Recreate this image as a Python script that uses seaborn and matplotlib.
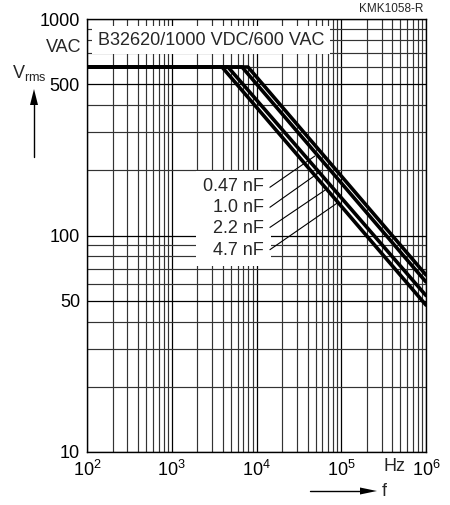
import pandas as pd
import seaborn as sns
import matplotlib.pyplot as plt
from matplotlib.ticker import FixedLocator, LogLocator, NullFormatter
import matplotlib.transforms as mtransforms

# curve data: flat part at 600 VAC, then roll-off
caps = ['0.47 nF', '1.0 nF', '2.2 nF', '4.7 nF']
freq_047 = [100, 7940, 1e6]
freq_10 = [100, 6750, 1e6]
freq_22 = [100, 4610, 1e6]
freq_47 = [100, 3920, 1e6]
volt_047 = [600, 600, 65.7]
volt_10 = [600, 600, 61.0]
volt_22 = [600, 600, 52.8]
volt_47 = [600, 600, 47.7]

y_labels = [10, 50, 100, 500, 1000]

# leader line ends (label side / curve side)
lead_start = [(14400, 167), (14400, 135), (14400, 109), (14400, 86)]
lead_end = [(49000, 233), (53200, 194), (64300, 162), (89100, 141)]

df = pd.concat([
    pd.DataFrame({'f': freq_047, 'V': volt_047, 'C': caps[0]}),
    pd.DataFrame({'f': freq_10, 'V': volt_10, 'C': caps[1]}),
    pd.DataFrame({'f': freq_22, 'V': volt_22, 'C': caps[2]}),
    pd.DataFrame({'f': freq_47, 'V': volt_47, 'C': caps[3]}),
])

sns.set_style('white')
plt.rcParams['font.family'] = ['Liberation Sans', 'DejaVu Sans']
plt.rcParams['mathtext.fontset'] = 'custom'
plt.rcParams['mathtext.rm'] = 'Liberation Sans'
plt.rcParams['mathtext.it'] = 'Liberation Sans:italic'
fs = 13

fig = plt.figure(figsize=(4.5, 5.05), dpi=100)
ax = fig.add_axes([87 / 450, 53 / 505, 339 / 450, 433 / 505])

sns.lineplot(data=df, x='f', y='V', hue='C', palette={c: 'black' for c in caps},
             linewidth=2.6, legend=False, ax=ax, zorder=4)

ax.set_xscale('log')
ax.set_yscale('log')
ax.set_xlim(100, 1e6)
ax.set_ylim(10, 1000)

ax.yaxis.set_major_locator(FixedLocator(y_labels))
ax.yaxis.set_major_formatter(plt.FuncFormatter(lambda v, p: '%d' % v))
ax.yaxis.set_minor_locator(LogLocator(base=10, subs=range(2, 10)))
ax.yaxis.set_minor_formatter(NullFormatter())
ax.xaxis.set_major_locator(LogLocator(base=10))
ax.xaxis.set_minor_locator(LogLocator(base=10, subs=range(2, 10)))
ax.xaxis.set_minor_formatter(NullFormatter())

ax.grid(which='major', color='black', linewidth=0.9, zorder=1)
ax.grid(which='minor', color='#333333', linewidth=0.85, zorder=1)
ax.set_axisbelow(True)
ax.tick_params(which='both', length=0, labelsize=fs, colors='black')
ax.tick_params(axis='y', pad=5)
ax.tick_params(axis='x', pad=6)
for lbl in ax.get_yticklabels():
    lbl.set_verticalalignment('center_baseline')
for s in ax.spines.values():
    s.set_color('black')
    s.set_linewidth(1.0)
ax.set_xlabel('')
ax.set_ylabel('')

# title box inside the plot
ax.text(0.032, 0.951, 'B32620/1000 VDC/600 VAC', transform=ax.transAxes, fontsize=fs,
        ha='left', va='center', zorder=5,
        bbox=dict(boxstyle='square,pad=0.3', fc='white', ec='none'))

# capacitance labels with leaders
ax.text(12200, 120, '\n'.join(caps), fontsize=fs, ha='right', va='center',
        linespacing=1.32, zorder=5,
        bbox=dict(boxstyle='square,pad=0.4', fc='white', ec='none'))
for (x0, y0), (x1, y1) in zip(lead_start, lead_end):
    ax.plot([x0, x1], [y0, y1], color='black', linewidth=0.8, zorder=6)

# axis annotations
trans_y = mtransforms.blended_transform_factory(ax.transAxes, ax.transData)
ax.text(-0.015, 740, 'VAC', transform=trans_y, fontsize=fs, ha='right', va='center')
fig.text(12 / 450, 1 - 73 / 505, r'V$_{\mathrm{rms}}$', fontsize=fs, ha='left', va='center')
fig.add_artist(plt.Line2D([34 / 450, 34 / 450], [1 - 157 / 505, 1 - 100 / 505],
                          color='black', linewidth=1.0))
fig.patches.append(plt.Polygon([[34 / 450, 1 - 89 / 505], [30 / 450, 1 - 105 / 505],
                                [38 / 450, 1 - 105 / 505]], closed=True, fc='black',
                               ec='none', transform=fig.transFigure))

trans_x = mtransforms.blended_transform_factory(ax.transData, ax.transAxes)
ax.text(10 ** 5.63, -0.015, 'Hz', transform=trans_x, fontsize=fs, ha='center', va='top')
fig.add_artist(plt.Line2D([310 / 450, 362 / 450], [1 - 491 / 505, 1 - 491 / 505],
                          color='black', linewidth=1.0))
fig.patches.append(plt.Polygon([[377 / 450, 1 - 491 / 505], [360 / 450, 1 - 487.5 / 505],
                                [360 / 450, 1 - 494.5 / 505]], closed=True, fc='black',
                               ec='none', transform=fig.transFigure))
fig.text(382 / 450, 1 - 491 / 505, 'f', fontsize=fs, ha='left', va='center')

fig.text(423 / 450, 1 - 9 / 505, 'KMK1058-R', fontsize=8.5, ha='right', va='center')

fig.savefig('out.png', dpi=100, facecolor='white')
